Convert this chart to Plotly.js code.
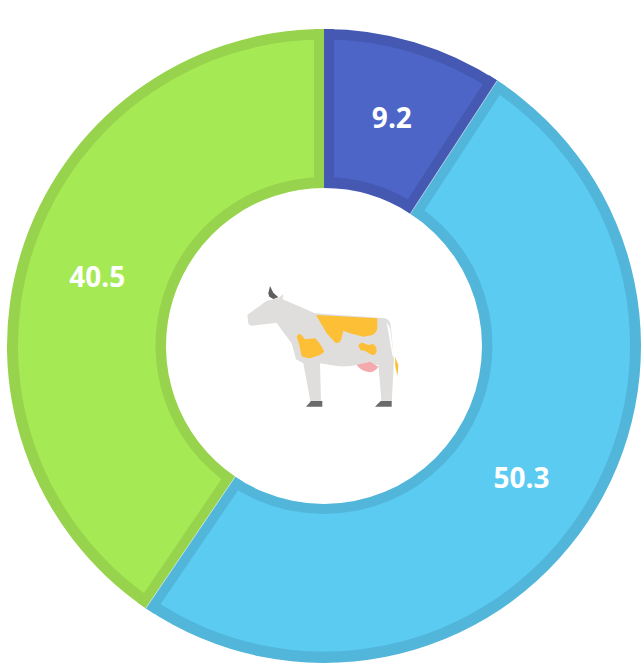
<!DOCTYPE html>
<html><head><meta charset="utf-8">
<script src="https://cdn.plot.ly/plotly-3.0.1.min.js"></script>
<style>html,body{margin:0;padding:0;background:#fff}#c{width:641px;height:664px}</style>
</head><body><div id="c"></div>
<script>
const categories = ['A','B','C'];
const values = [9.2,50.3,40.5];
const fillColors = ['#4c65c7','#5ccbf2','#a5ea55'];
const borderColors = ['#4559b3','#52b6da','#97d34c'];

const W=641,H=664,cx=324,cy=346,R=317,r=158,bw=10;
const fillR=306,fillr=168.5,fillCy=345.5;
const dom=(rad,yc)=>({x:[(cx-rad)/W,(cx+rad)/W],y:[1-(yc+rad)/H,1-(yc-rad)/H]});
const common={labels:categories,values:values,type:'pie',sort:false,direction:'clockwise',rotation:0,showlegend:false,hoverinfo:'skip'};

const base=Object.assign({},common,{domain:dom(R,cy),hole:r/R,marker:{colors:borderColors,line:{width:0}},textinfo:'none'});
const top_=Object.assign({},common,{domain:dom(fillR,fillCy),hole:fillr/fillR,marker:{colors:fillColors,line:{width:0}},
  textinfo:'value',texttemplate:'%{value:.1f}',textposition:'inside',insidetextorientation:'horizontal',
  insidetextfont:{family:'"Open Sans",sans-serif',size:28,color:'#fff',weight:700}});

const X=p=>p/W,Y=p=>1-p/H;
const shapes=[];
const total=values.reduce((a,b)=>a+b,0);
let cum=0;
values.forEach((v,i)=>{
  const t=cum/total*2*Math.PI; cum+=v;
  const d=[Math.sin(t),-Math.cos(t)],n=[Math.cos(t),Math.sin(t)];
  const prev=(i+values.length-1)%values.length;
  const seg=(off,col,w)=>shapes.push({type:'line',xref:'paper',yref:'paper',layer:'above',
    x0:X(cx+d[0]*r+n[0]*off),y0:Y(cy+d[1]*r+n[1]*off),x1:X(cx+d[0]*R+n[0]*off),y1:Y(cy+d[1]*R+n[1]*off),
    line:{color:col,width:w}});
  seg(bw/2,borderColors[i],bw);
  seg(-bw/2,borderColors[prev],bw);
  if(i>0) seg(0,'rgba(255,255,255,0.7)',0.8);
});

const cow=`<svg xmlns="http://www.w3.org/2000/svg" width="570" height="450" viewBox="0 0 570 450">
<defs><filter id="b" x="-5%" y="-5%" width="110%" height="110%"><feGaussianBlur stdDeviation="1.3"/></filter></defs>
<g filter="url(#b)">
<path d="M110 55 L115 70 L120 48 L130 68 L145 82 L130 87 L118 80 Z" fill="#5e5e5e"/>
<path d="M52 135 L110 92 L130 88 L145 85 L160 72 L158 88 L255 130 L465 145 Q480 150 482 165 L492 270 L485 398 L455 398 L445 284 L380 285 Q350 292 320 288 L270 280 L273 398 L242 398 L220 280 L198 268 L185 220 L155 180 L140 158 L65 167 Q55 165 55 160 Z" fill="#dfdedd"/>
<path d="M470 158 Q478 165 480 175 L492 260 L488 260 Z" fill="#fff"/>
<path d="M258 135 L442 145 L442 175 Q438 192 425 196 L400 200 L360 190 L340 182 L334 208 Q328 222 316 218 L290 190 Z" fill="#fcbf36"/>
<path d="M200 200 Q205 190 212 193 L225 208 L255 205 Q268 215 283 245 L270 255 L240 265 Q220 262 215 258 L210 235 L206 218 Z" fill="#fcbf36"/>
<path d="M385 228 Q388 218 398 218 L415 225 L430 222 Q440 230 440 240 Q438 256 428 255 L420 252 L405 242 L392 241 Z" fill="#fcbf36"/>
<path d="M495 260 L505 285 L503 318 L496 290 Z" fill="#fcbf36"/>
<path d="M380 285 L420 275 L445 290 Q436 304 420 307 Q395 305 380 285 Z" fill="#f4a9ad"/>
<path d="M228 410 L243 393 L277 393 L277 410 Z" fill="#6a6a6a"/>
<path d="M435 410 L452 393 L485 393 L485 410 Z" fill="#6a6a6a"/>
</g>
</svg>`;
const images=[{source:'data:image/svg+xml;base64,'+btoa(cow),xref:'paper',yref:'paper',x:230/W,y:1-270/H,sizex:190/W,sizey:150/H,xanchor:'left',yanchor:'top',sizing:'stretch',layer:'above'}];

Plotly.newPlot('c',[base,top_],{width:W,height:H,margin:{l:0,r:0,t:0,b:0},paper_bgcolor:'#fff',plot_bgcolor:'#fff',shapes:shapes,images:images},{displayModeBar:false,staticPlot:true});
</script></body></html>
